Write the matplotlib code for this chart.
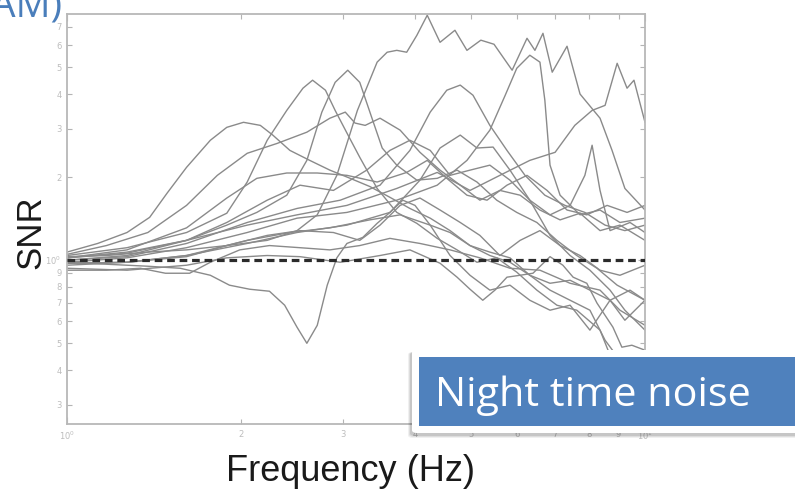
import matplotlib
matplotlib.use("Agg")
import matplotlib.pyplot as plt
from matplotlib.patches import FancyBboxPatch, Rectangle
from matplotlib.ticker import FixedLocator, FixedFormatter

# ---------------------------------------------------------------- data
# Night-time SNR spectra, one (frequency [Hz], SNR) pair of lists per station
t1_f = [1.00, 1.17, 1.38, 1.61, 1.89, 2.22, 2.50, 2.71, 2.93, 3.18, 3.44, 3.58, 3.72, 3.87,
        4.03, 4.20, 4.42, 4.69, 4.92, 5.20, 5.48, 5.89, 6.25, 6.45, 6.66, 6.91, 7.33, 7.72,
        8.36, 8.77, 9.23, 10.0]
t1_s = [1.03, 1.04, 1.07, 1.09, 1.13, 1.18, 1.28, 1.46, 2.03, 3.49, 5.22, 5.67, 5.76, 5.67,
        6.53, 7.72, 6.16, 6.81, 5.76, 6.27, 6.06, 4.88, 6.37, 5.76, 6.64, 4.80, 5.96, 4.00,
        3.27, 2.50, 1.82, 1.52]

t3_f = [1.00, 1.27, 1.61, 2.05, 2.50, 3.05, 3.72, 4.37, 4.92, 5.39, 5.73, 6.00, 6.32, 6.58,
        6.71, 6.85, 7.13, 7.72, 8.36, 9.05, 10.0]
t3_s = [0.983, 1.02, 1.11, 1.26, 1.42, 1.49, 1.65, 1.87, 2.30, 2.96, 3.96, 4.96, 5.53, 5.22,
        3.80, 2.21, 1.72, 1.46, 1.52, 1.37, 1.42]

t5_f = [1.00, 1.27, 1.61, 2.05, 2.50, 3.05, 3.72, 4.37, 4.98, 5.61, 6.32, 6.99, 7.56, 8.10,
        8.53, 8.95, 9.31, 9.57, 10.0]
t5_s = [1.02, 1.06, 1.18, 1.34, 1.46, 1.58, 1.82, 2.08, 1.79, 2.03, 2.30, 2.46, 3.08, 3.49,
        3.64, 5.17, 4.20, 4.49, 3.16]

h1_f = [1.00, 1.27, 1.61, 2.05, 2.50, 2.97, 3.48, 3.92, 4.25, 4.54, 4.79, 5.04, 5.39, 5.77,
        6.20, 6.71, 7.27, 7.87, 8.53, 9.23, 10.0]
h1_s = [1.00, 1.03, 1.15, 1.37, 1.54, 1.65, 1.87, 2.50, 3.44, 4.13, 4.31, 3.96, 3.08, 2.50,
        2.03, 1.72, 1.58, 1.49, 1.34, 1.28, 1.34]

h2_f = [1.00, 1.27, 1.61, 2.05, 2.50, 3.05, 3.62, 4.08, 4.42, 4.79, 5.12, 5.46, 5.84, 6.32,
        6.85, 7.42, 8.03, 8.70, 9.23, 10.0]
h2_s = [0.975, 0.983, 1.04, 1.15, 1.26, 1.34, 1.49, 1.95, 2.55, 2.84, 2.55, 2.57, 2.12, 1.65,
        1.23, 1.04, 0.920, 0.779, 0.659, 0.558]

t2_f = [1.00, 1.27, 1.61, 1.89, 2.13, 2.40, 2.60, 2.76, 2.91, 3.06, 3.21, 3.37, 3.51, 3.72,
        4.03, 4.37, 4.73, 5.12, 5.54, 6.00, 6.50, 7.04, 7.62, 8.26, 8.95, 10.0]
t2_s = [1.02, 1.07, 1.18, 1.34, 1.49, 1.72, 2.30, 3.44, 4.41, 4.88, 4.41, 3.27, 2.55, 2.21,
        1.95, 1.98, 2.12, 1.92, 1.65, 1.49, 1.37, 1.18, 1.04, 0.935, 0.812, 0.716]

t4_f = [1.00, 1.27, 1.61, 1.89, 2.05, 2.22, 2.40, 2.56, 2.66, 2.80, 2.91, 3.05, 3.21, 3.44,
        3.72, 4.03, 4.37, 4.73, 5.12, 5.54, 6.00, 6.50, 7.04, 7.62, 8.36, 9.05, 9.80]
t4_s = [1.04, 1.11, 1.26, 1.48, 1.92, 2.72, 3.49, 4.20, 4.49, 4.13, 3.49, 2.89, 2.36, 1.82,
        1.49, 1.36, 1.20, 1.09, 0.983, 1.02, 0.905, 0.779, 0.687, 0.659, 0.558, 0.368, 0.311]

c1_f = [1.00, 1.13, 1.27, 1.39, 1.49, 1.61, 1.77, 1.89, 2.02, 2.16, 2.27, 2.43, 2.63, 2.85,
        3.09, 3.34, 3.62, 3.92, 4.25, 4.60, 4.98, 5.39, 5.84, 6.32, 6.85, 7.42, 8.03, 8.70,
        9.42, 10.0]
c1_s = [1.07, 1.15, 1.26, 1.43, 1.75, 2.17, 2.72, 3.03, 3.16, 3.08, 2.84, 2.50, 2.30, 2.12,
        1.98, 1.85, 1.69, 1.54, 1.42, 1.28, 1.13, 1.04, 0.983, 0.882, 0.825, 0.846, 0.779,
        0.716, 0.779, 0.716]

c2_f = [1.00, 1.17, 1.38, 1.61, 1.82, 2.05, 2.31, 2.60, 2.85, 3.03, 3.15, 3.28, 3.48, 3.77,
        4.08, 4.42, 4.79, 5.18, 5.61, 6.08, 6.58, 7.13, 7.72, 8.36, 9.05, 10.0]
c2_s = [1.05, 1.13, 1.26, 1.58, 2.03, 2.44, 2.65, 2.91, 3.27, 3.44, 3.14, 3.08, 3.27, 2.96,
        2.46, 2.12, 1.87, 1.65, 1.79, 1.72, 1.52, 1.40, 1.48, 1.28, 1.34, 1.18]

m1_f = [1.00, 1.27, 1.61, 1.89, 2.13, 2.40, 2.71, 3.05, 3.44, 3.87, 4.20, 4.54, 4.92, 5.33,
        5.77, 6.25, 6.77, 7.33, 7.93, 8.60, 9.31, 10.0]
m1_s = [1.02, 1.09, 1.31, 1.68, 1.98, 2.07, 2.07, 2.03, 1.92, 2.08, 2.30, 1.98, 1.72, 1.65,
        1.87, 2.03, 1.79, 1.52, 1.46, 1.58, 1.49, 1.58]

m2_f = [1.00, 1.27, 1.61, 1.89, 2.22, 2.53, 2.89, 3.30, 3.62, 3.92, 4.25, 4.60, 4.98, 5.39,
        5.84, 6.32, 6.85, 7.42, 7.87, 8.10, 8.36, 8.70, 9.42, 10.0]
m2_s = [1.00, 1.04, 1.18, 1.37, 1.65, 1.87, 1.79, 2.12, 2.50, 2.72, 2.50, 2.03, 2.12, 2.21,
        1.95, 1.65, 1.46, 1.58, 2.03, 2.61, 1.79, 1.28, 1.37, 1.26]

m4_f = [1.00, 1.27, 1.61, 1.89, 2.22, 2.53, 2.89, 3.21, 3.48, 3.77, 4.08, 4.42, 4.79, 5.18,
        5.61, 6.08, 6.58, 7.13, 7.72, 8.36, 9.05, 10.0]
m4_s = [0.975, 0.983, 1.03, 1.13, 1.23, 1.28, 1.26, 1.18, 1.34, 1.58, 1.68, 1.52, 1.37, 1.23,
        1.04, 1.18, 1.28, 1.13, 1.04, 0.920, 0.882, 0.959]

m5_f = [1.00, 1.27, 1.61, 2.05, 2.43, 2.85, 3.34, 3.77, 4.25, 4.60, 4.98, 5.39, 5.84, 6.32,
        6.85, 7.42, 8.03, 8.53, 9.05, 9.61, 10.0]
m5_s = [0.959, 0.983, 1.04, 1.18, 1.26, 1.31, 1.40, 1.46, 1.34, 1.26, 1.13, 1.07, 1.02, 0.882,
        0.779, 0.716, 0.659, 0.513, 0.434, 0.324, 0.286]

b1_f = [1.00, 1.27, 1.61, 1.89, 2.22, 2.53, 2.97, 3.48, 3.92, 4.42, 4.73, 4.98, 5.24, 5.50,
        5.77, 6.08, 6.40, 6.85, 7.21, 7.51, 7.93, 8.26, 8.80, 9.12, 9.49, 10.0]
b1_s = [0.935, 0.920, 0.959, 1.02, 1.04, 1.03, 0.983, 1.04, 1.09, 0.975, 0.868, 0.785, 0.716,
        0.779, 0.868, 0.882, 0.897, 1.03, 0.959, 0.868, 0.825, 0.699, 0.572, 0.484, 0.492, 0.472]

d1_f = [1.00, 1.17, 1.38, 1.57, 1.77, 1.91, 2.07, 2.24, 2.38, 2.50, 2.60, 2.71, 2.82, 2.93,
        3.05, 3.25, 3.44, 3.62, 3.81, 4.00, 4.25, 4.60, 4.98, 5.39, 5.84, 6.32, 6.85, 7.42,
        8.03, 8.70, 9.23, 10.0]
d1_s = [0.983, 0.967, 0.951, 0.935, 0.882, 0.812, 0.785, 0.772, 0.687, 0.572, 0.500, 0.581,
        0.812, 1.02, 1.15, 1.21, 1.36, 1.49, 1.65, 1.58, 1.34, 1.04, 0.882, 0.779, 0.812,
        0.716, 0.659, 0.687, 0.558, 0.716, 0.606, 0.716]

l1_f = [1.00, 1.17, 1.34, 1.48, 1.63, 1.77, 1.99, 2.24, 2.53, 2.85, 3.21, 3.62, 4.08, 4.60,
        5.18, 5.84, 6.58, 7.42, 8.36, 9.05, 10.0]
l1_s = [0.920, 0.920, 0.935, 0.897, 0.897, 0.983, 1.09, 1.13, 1.11, 1.09, 1.13, 1.20, 1.15,
        1.09, 1.02, 0.935, 0.920, 0.825, 0.779, 0.659, 0.581]

series = [(t1_f, t1_s), (t3_f, t3_s), (t5_f, t5_s), (h1_f, h1_s), (h2_f, h2_s),
          (t2_f, t2_s), (t4_f, t4_s), (c1_f, c1_s), (c2_f, c2_s), (m1_f, m1_s),
          (m2_f, m2_s), (m4_f, m4_s), (m5_f, m5_s), (b1_f, b1_s), (d1_f, d1_s),
          (l1_f, l1_s)]

reference_snr = 1.0

x_major = [1, 10]
x_major_labels = ["$10^0$", "$10^1$"]
x_minor = [2, 3, 4, 5, 6, 7, 8, 9]
x_minor_labels = ["2", "3", "4", "5", "6", "7", "8", "9"]
y_major = [1]
y_major_labels = ["$10^0$"]
y_minor = [0.3, 0.4, 0.5, 0.6, 0.7, 0.8, 0.9, 2, 3, 4, 5, 6, 7]
y_minor_labels = ["3", "4", "5", "6", "7", "8", "9", "2", "3", "4", "5", "6", "7"]

# ---------------------------------------------------------------- figure
W, H = 795, 490
fig = plt.figure(figsize=(W / 100, H / 100), dpi=100)
fig.patch.set_facecolor("white")


def fx(px):
    return px / W


def fy(py):
    return 1 - py / H


ax = fig.add_axes([fx(67), fy(424), fx(645) - fx(67), fy(14) - fy(424)])
ax.set_xscale("log")
ax.set_yscale("log")
ax.set_xlim(1, 10)
ax.set_ylim(0.255, 7.8)

for f, s in series:
    ax.plot(f, s, color="#8a8a8a", lw=1.0, solid_joinstyle="round", zorder=2)

ax.axhline(reference_snr, color="#2b2b2b", lw=2.3, ls=(0, (2.4, 1.5)), zorder=3)

ax.xaxis.set_major_locator(FixedLocator(x_major))
ax.xaxis.set_major_formatter(FixedFormatter(x_major_labels))
ax.xaxis.set_minor_locator(FixedLocator(x_minor))
ax.xaxis.set_minor_formatter(FixedFormatter(x_minor_labels))
ax.yaxis.set_major_locator(FixedLocator(y_major))
ax.yaxis.set_major_formatter(FixedFormatter(y_major_labels))
ax.yaxis.set_minor_locator(FixedLocator(y_minor))
ax.yaxis.set_minor_formatter(FixedFormatter(y_minor_labels))

tick_col = "#b4b4b4"
for which, ln in (("major", 5), ("minor", 3.5)):
    ax.tick_params(axis="both", which=which, direction="in", length=ln, width=0.8,
                   color=tick_col, labelcolor="#bdbdbd", labelsize=6,
                   top=True, right=True, pad=4)
for sp in ax.spines.values():
    sp.set_color("#b8b8b8")
    sp.set_linewidth(1.3)

# axis titles
fig.text(fx(31), fy(232), "SNR", rotation=90, ha="center", va="center",
         fontsize=25, family="Liberation Sans", color="#1a1a1a")
fig.text(fx(350), fy(481), "Frequency (Hz)", ha="center", va="baseline",
         fontsize=26, family="Liberation Sans", color="#1a1a1a")

# heading cut by the top edge
fig.text(fx(245), fy(-5), "Night-time Signal", ha="left", va="baseline",
         fontsize=19, family="Liberation Sans", color="#222222")
fig.text(fx(62), fy(17), "AM)", ha="right", va="baseline",
         fontsize=28, family="Open Sans", color="#4a7ebb")

# callout box
for k, a in enumerate([0.10, 0.08, 0.06]):
    fig.add_artist(FancyBboxPatch((fx(410 - k), fy(436 + k)),
                                  fx(800) - fx(410 - k), fy(352) - fy(436 + k),
                                  boxstyle="round,pad=0,rounding_size=0.006",
                                  transform=fig.transFigure, facecolor="black",
                                  edgecolor="none", alpha=a, zorder=5))
fig.add_artist(FancyBboxPatch((fx(412), fy(433)), fx(800) - fx(412), fy(350) - fy(433),
                              boxstyle="round,pad=0,rounding_size=0.006",
                              transform=fig.transFigure, facecolor="white",
                              edgecolor="none", zorder=6))
fig.add_artist(Rectangle((fx(419), fy(426)), fx(800) - fx(419), fy(357) - fy(426),
                         transform=fig.transFigure, facecolor="#4f81bd",
                         edgecolor="none", zorder=7))
fig.text(fx(435), fy(406), "Night time noise", ha="left", va="baseline",
         fontsize=29.8, family="Open Sans", color="white", zorder=8)

fig.savefig("out.png", dpi=100)
